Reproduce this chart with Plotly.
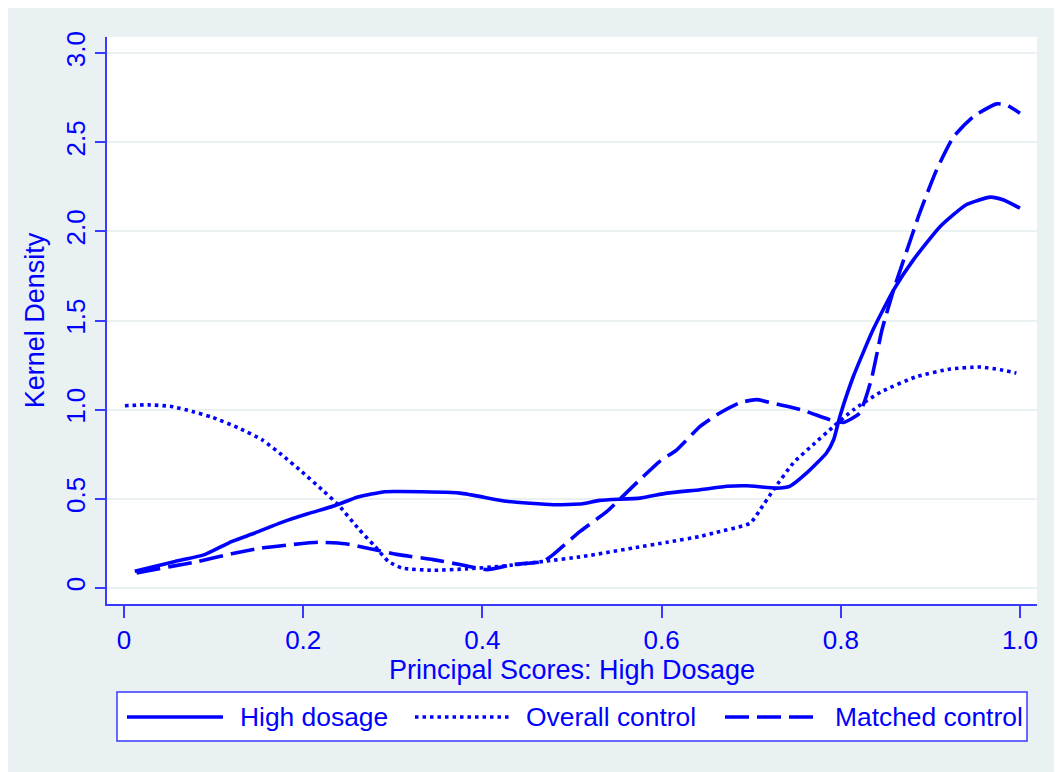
import plotly.graph_objects as go

# ---- data ----
high_x = [0.012, 0.057, 0.09, 0.12, 0.146, 0.176, 0.205, 0.235, 0.261, 0.291, 0.308, 0.375,
          0.427, 0.479, 0.512, 0.531, 0.576, 0.606, 0.643, 0.673, 0.695, 0.728, 0.743, 0.762,
          0.784, 0.792, 0.799, 0.814, 0.836, 0.859, 0.881, 0.911, 0.940, 0.967, 0.981, 1.0]
high_y = [0.093, 0.149, 0.187, 0.26, 0.308, 0.368, 0.416, 0.461, 0.51, 0.54, 0.541, 0.532,
          0.486, 0.467, 0.472, 0.491, 0.504, 0.532, 0.551, 0.570, 0.573, 0.560, 0.570, 0.645,
          0.757, 0.831, 0.962, 1.186, 1.448, 1.672, 1.840, 2.027, 2.149, 2.192, 2.177, 2.130]

overall_x = [0.001, 0.027, 0.053, 0.076, 0.098, 0.128, 0.154, 0.176, 0.198, 0.221, 0.239,
             0.261, 0.28, 0.295, 0.31, 0.345, 0.382, 0.42, 0.468, 0.513, 0.568, 0.606, 0.643,
             0.658, 0.699, 0.71, 0.725, 0.747, 0.769, 0.792, 0.814, 0.845, 0.885, 0.922,
             0.955, 0.978, 0.996]
overall_y = [1.022, 1.027, 1.018, 0.99, 0.958, 0.897, 0.831, 0.747, 0.654, 0.551, 0.467,
             0.336, 0.233, 0.149, 0.112, 0.099, 0.107, 0.121, 0.149, 0.177, 0.224, 0.256, 0.289,
             0.308, 0.364, 0.439, 0.551, 0.701, 0.803, 0.906, 0.999, 1.10, 1.186, 1.228,
             1.239, 1.224, 1.205]

matched_x = [0.014, 0.053, 0.083, 0.12, 0.154, 0.187, 0.217, 0.247, 0.276, 0.306, 0.345,
             0.375, 0.405, 0.434, 0.468, 0.479, 0.509, 0.539, 0.568, 0.598, 0.617, 0.643,
             0.665, 0.688, 0.706, 0.732, 0.758, 0.788, 0.803, 0.821, 0.834, 0.846, 0.859,
             0.874, 0.888, 0.907, 0.926, 0.948, 0.974, 0.985, 1.0]
matched_y = [0.084, 0.121, 0.149, 0.192, 0.224, 0.243, 0.256, 0.248, 0.219, 0.187, 0.159,
             0.131, 0.103, 0.131, 0.149, 0.187, 0.317, 0.429, 0.570, 0.710, 0.775, 0.906,
             0.981, 1.040, 1.056, 1.027, 0.996, 0.943, 0.928, 0.981, 1.168, 1.448, 1.672,
             1.896, 2.102, 2.345, 2.531, 2.644, 2.715, 2.709, 2.663]

series_names = ["High dosage", "Overall control", "Matched control"]
x_tick_vals = [0, 0.2, 0.4, 0.6, 0.8, 1.0]
x_tick_text = ["0", "0.2", "0.4", "0.6", "0.8", "1.0"]
y_tick_vals = [0, 0.5, 1.0, 1.5, 2.0, 2.5, 3.0]
y_tick_text = ["0", "0.5", "1.0", "1.5", "2.0", "2.5", "3.0"]
x_title = "Principal Scores: High Dosage"
y_title = "Kernel Density"

# ---- styles ----
BLUE = "#0000ff"
AXIS = "#3a3aff"
BG = "#eaf1f3"
FONT = "Liberation Sans, Arial, sans-serif"
dashes = ["solid", "3.5px,4px", "24px,8px"]
widths = [3.6, 3.6, 3.6]

fig = go.Figure()
for xs, ys, name, d, w in zip([high_x, overall_x, matched_x],
                              [high_y, overall_y, matched_y],
                              series_names, dashes, widths):
    fig.add_trace(go.Scatter(x=xs, y=ys, mode="lines", name=name, showlegend=False,
                             line=dict(color=BLUE, width=w, dash=d, shape="spline",
                                       smoothing=0.5)))

# plot-area geometry in figure pixels (page adds an 8px body margin)
W, H = 1054, 764
L, R, T, B = 99, 1029, 29, 596
pw, ph = R - L, B - T


def px(xp):
    return (xp - L) / pw


def py(yp):
    return (B - yp) / ph


shapes = [
    # legend box
    dict(type="rect", xref="paper", yref="paper",
         x0=px(109), x1=px(1019), y0=py(733), y1=py(684),
         fillcolor="white", line=dict(color=AXIS, width=1.5)),
]
annotations = []
sample_x = [(119, 215), (407, 501), (717, 811)]
text_x = [230, 516, 825]
ly = py(709)
for (a, b), tx, name, d, w in zip(sample_x, text_x, series_names, dashes, widths):
    shapes.append(dict(type="line", xref="paper", yref="paper",
                       x0=px(a), x1=px(b), y0=ly, y1=ly,
                       line=dict(color=BLUE, width=w, dash=d)))
    annotations.append(dict(xref="paper", yref="paper", x=px(tx), y=ly,
                            xanchor="left", yanchor="middle", text=name,
                            showarrow=False, font=dict(family=FONT, size=26.4, color=BLUE)))

fig.update_layout(
    width=W, height=H,
    margin=dict(l=L, r=W - R, t=T, b=H - B),
    paper_bgcolor=BG, plot_bgcolor="white",
    font=dict(family=FONT, color=BLUE, size=26),
    shapes=shapes, annotations=annotations,
    showlegend=False,
)
fig.update_xaxes(
    range=[-0.019, 1.019], tickvals=x_tick_vals, ticktext=x_tick_text,
    showline=True, linecolor=AXIS, linewidth=1.5, mirror=False,
    ticks="outside", ticklen=12, tickwidth=1.5, tickcolor=AXIS,
    showgrid=False, zeroline=False,
    tickfont=dict(family=FONT, size=26, color=BLUE),
    title=dict(text=x_title, font=dict(family=FONT, size=27, color=BLUE), standoff=1),
)
fig.update_yaxes(
    range=[-0.09, 3.09], tickvals=y_tick_vals, ticktext=y_tick_text, tickangle=-90,
    showline=True, linecolor=AXIS, linewidth=1.5, mirror=False,
    ticks="outside", ticklen=10, tickwidth=1.5, tickcolor=AXIS,
    showgrid=True, gridcolor=BG, gridwidth=2, zeroline=False,
    tickfont=dict(family=FONT, size=26, color=BLUE),
    title=dict(text=y_title, font=dict(family=FONT, size=27, color=BLUE), standoff=8),
)

fig.write_html("out.html")
